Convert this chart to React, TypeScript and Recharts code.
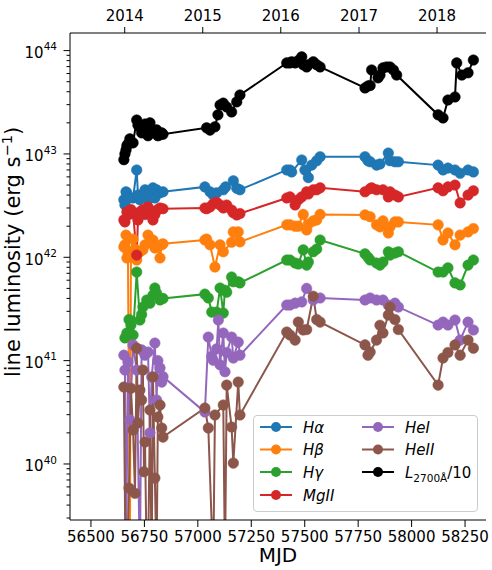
import React from 'react';
import { LineChart, Line, XAxis, YAxis } from 'recharts';

const FONT = '"DejaVu Sans", "Liberation Sans", sans-serif';
const PLOT_LEFT = 70;

// value used for points that lie below the bottom of the plotted range
const OFF = 1e39;

const MJD_DOMAIN: [number, number] = [56402, 58348];
const L_DOMAIN: [number, number] = [2.87e39, 1.48e44];
const MJD_TICKS = [56500, 56750, 57000, 57250, 57500, 57750, 58000, 58250];
const YEAR_TICKS = [56658, 57023, 57388, 57754, 58119];
const YEAR_LABELS = ['2014', '2015', '2016', '2017', '2018'];
const L_TICKS: number[] = [];
for (let k = 39; k <= 44; k++) {
  for (let m = 1; m <= 9; m++) {
    const v = m * Math.pow(10, k);
    if (v >= L_DOMAIN[0] && v <= L_DOMAIN[1]) L_TICKS.push(v);
  }
}

const HALPHA: [number, number][] = [
  [56654, 3.6e42], [56659, 3.21e42], [56664, 4.3e42], [56668, 4.2e42], [56678, 3.75e42], [56697, 3.75e42],
  [56714, 7.0e42], [56720, 4.0e42], [56729, 3.6e42], [56737, 4.0e42], [56753, 4.5e42], [56767, 3.6e42],
  [56776, 4.3e42], [56790, 4.7e42], [56799, 3.75e42], [56807, 4.5e42], [56823, 4.2e42], [56837, 4.3e42],
  [57033, 4.8e42], [57057, 4.3e42], [57072, 4.0e42], [57088, 4.2e42], [57119, 4.5e42], [57130, 4.8e42],
  [57166, 5.5e42], [57182, 4.65e42], [57197, 4.5e42],
  [57416, 7.0e42], [57431, 7.0e42], [57439, 6.7e42], [57486, 8.75e42], [57501, 7.0e42], [57517, 5.9e42],
  [57533, 7.8e42], [57556, 8.6e42], [57572, 9.4e42],
  [57782, 9.4e42], [57796, 8.6e42], [57806, 8.4e42], [57836, 7.8e42], [57852, 8.0e42], [57891, 1.02e43],
  [57899, 8.6e42], [57922, 8.4e42], [57938, 8.4e42],
  [58124, 7.8e42], [58147, 7.0e42], [58170, 7.3e42], [58203, 7.0e42], [58227, 6.5e42], [58264, 7.0e42], [58289, 6.7e42],
];

const HBETA: [number, number][] = [
  [56654, 1.26e42], [56659, 1.32e42], [56664, 1.64e42], [56668, 9.85e41], [56673, 1.13e42], [56682, OFF],
  [56687, 1.05e42], [56697, 1.5e42], [56706, 1.2e42], [56714, 9.4e41], [56729, 1.13e42], [56743, 1.18e42],
  [56753, 1.32e42], [56767, 1.64e42], [56776, 1.41e42], [56790, 1.47e42], [56799, 1.23e42], [56813, 1.26e42],
  [56823, 9.85e41], [56831, 1.32e42], [56837, 1.35e42],
  [57033, 1.47e42], [57041, 1.5e42], [57057, 1.32e42], [57080, 8.05e41], [57104, 1.32e42], [57119, 1.13e42],
  [57158, 1.4e42], [57166, 1.76e42], [57182, 1.72e42], [57189, 1.76e42], [57197, 1.41e42],
  [57416, 2.06e42], [57431, 2.06e42], [57455, 2.0e42], [57470, 2.0e42], [57493, 2.6e42], [57509, 1.84e42],
  [57517, 2.1e42], [57540, 2.25e42], [57556, 2.3e42], [57572, 2.6e42],
  [57782, 2.57e42], [57806, 2.47e42], [57836, 2.06e42], [57852, 1.97e42], [57866, 2.25e42], [57891, 1.72e42],
  [57899, 1.97e42], [57922, 2.2e42], [57938, 2.2e42],
  [58124, 2.06e42], [58147, 1.47e42], [58170, 1.72e42], [58203, 1.32e42], [58227, 1.64e42], [58264, 1.76e42], [58289, 1.9e42],
];

const HGAMMA: [number, number][] = [
  [56659, 1.66e41], [56668, 1.85e41], [56678, 2.5e41], [56687, 2.21e41], [56697, 1.77e41], [56714, 7.2e41],
  [56729, 2.47e41], [56737, 2.8e41], [56743, 3.3e41], [56761, 3.86e41], [56776, 3.6e41], [56790, 4.3e41],
  [56799, 5.05e41], [56807, 4.5e41], [56823, 3.86e41], [56837, 4.0e41],
  [57033, 4.4e41], [57049, 4.04e41], [57065, 2.95e41], [57088, 2.95e41], [57104, 5.05e41], [57119, 2.89e41],
  [57127, 4.8e41], [57135, 4.6e41], [57158, 6.45e41], [57166, 5.8e41], [57189, 5.8e41], [57197, 5.65e41],
  [57416, 9.4e41], [57431, 9.4e41], [57455, 8.8e41], [57470, 8.6e41], [57493, 1.18e42], [57509, 8.4e41],
  [57517, 9.0e41], [57540, 1.13e42], [57556, 1.2e42], [57572, 1.47e42],
  [57782, 1.08e42], [57796, 1.0e42], [57806, 9.4e41], [57836, 8.8e41], [57852, 8.4e41], [57866, 9.0e41],
  [57891, 1.13e42], [57899, 1.05e42], [57922, 1.1e42], [57938, 1.13e42],
  [58124, 7.2e41], [58147, 7.2e41], [58170, 7.9e41], [58203, 5.65e41], [58227, 5.4e41], [58264, 8.4e41], [58289, 9.4e41],
];

const MGII: [number, number][] = [
  [56654, 2.3e42], [56659, 2.2e42], [56668, 2.75e42], [56678, 2.6e42], [56687, 2.9e42], [56697, 2.69e42],
  [56714, 1.05e42], [56720, 2.3e42], [56729, 2.75e42], [56743, 2.9e42], [56753, 2.6e42], [56767, 3.07e42],
  [56776, 2.87e42], [56790, 2.3e42], [56799, 2.6e42], [56813, 2.9e42], [56823, 3.0e42], [56837, 2.95e42],
  [57033, 3.0e42], [57041, 2.95e42], [57057, 3.07e42], [57072, 3.3e42], [57088, 3.4e42], [57104, 3.21e42],
  [57119, 3.0e42], [57135, 3.2e42], [57158, 2.87e42], [57166, 2.7e42], [57182, 2.57e42], [57197, 2.65e42],
  [57416, 3.75e42], [57431, 3.84e42], [57455, 3.21e42], [57470, 3.6e42], [57486, 3.84e42], [57509, 4.3e42],
  [57517, 4.1e42], [57540, 4.5e42], [57556, 4.5e42], [57572, 4.7e42],
  [57782, 4.3e42], [57806, 4.6e42], [57813, 4.7e42], [57836, 4.5e42], [57866, 4.5e42], [57891, 3.84e42],
  [57899, 4.3e42], [57922, 4.0e42], [57938, 3.84e42],
  [58124, 4.7e42], [58147, 4.4e42], [58170, 4.8e42], [58203, 5.0e42], [58227, 3.36e42], [58264, 4.0e42], [58289, 4.4e42],
];

const HEI: [number, number][] = [
  [56654, 1.13e41], [56659, 8.1e40], [56664, OFF], [56673, 9.7e40], [56682, 2.67e40], [56697, 1.42e41],
  [56714, 8.1e40], [56729, OFF], [56737, 1.27e41], [56753, 1.13e41], [56767, 1.21e41], [56776, 2.0e40],
  [56784, 6.95e40], [56799, 1.48e41], [56807, 4.16e40], [56813, 1.0e41], [56823, 8.5e40], [56831, 6.2e40], [56837, 7.0e40],
  [57033, 3.18e40], [57049, 1.69e41], [57065, 1.1e41], [57072, 1.01e41], [57088, 1.3e41], [57096, 2.47e41],
  [57104, 9.1e40], [57119, 1.85e41], [57127, 7.8e40], [57135, 1.2e41], [57158, 1.69e41], [57166, 1.06e41],
  [57189, 1.51e41], [57197, 1.13e41],
  [57416, 3.45e41], [57431, 3.45e41], [57455, 3.6e41], [57486, 3.7e41], [57509, 5.0e41], [57540, 3.86e41], [57572, 4.04e41],
  [57782, 3.86e41], [57806, 4.04e41], [57836, 3.86e41], [57866, 3.86e41], [57891, 3.45e41], [57922, 3.6e41], [57938, 3.3e41],
  [58124, 2.21e41], [58147, 2.36e41], [58170, 2.21e41], [58203, 2.47e41], [58227, 1.58e41], [58264, 2.36e41], [58289, 1.98e41],
];

const HEII: [number, number][] = [
  [56654, 5.55e40], [56662, OFF], [56668, OFF], [56678, 5.85e39], [56687, 5.4e40], [56697, 2.13e40],
  [56706, 5.2e39], [56714, 1.32e41], [56720, 2.49e40], [56729, 5.2e40], [56737, 4.16e40], [56743, 8.1e40],
  [56748, 8.4e39], [56753, 1.63e40], [56761, OFF], [56767, OFF], [56776, 3.33e40], [56784, OFF],
  [56790, 6.95e40], [56799, 7.3e39], [56807, OFF], [56813, 2.85e40], [56823, 3.72e40], [56831, 2.23e40], [56837, 1.82e40],
  [57033, 3.48e40], [57049, 2.23e40], [57072, OFF], [57080, 2.98e40], [57119, 3.72e40], [57127, OFF],
  [57135, 5.8e40], [57158, 2.28e40], [57166, 1.02e40], [57189, 6.2e40], [57197, 2.98e40],
  [57416, 1.89e41], [57431, 1.77e41], [57455, 1.58e41], [57470, 2.36e41], [57493, 1.98e41], [57509, 2.0e41],
  [57540, 4.2e41], [57556, 2.5e41], [57572, 2.36e41],
  [57782, 1.42e41], [57796, 1.13e41], [57806, 1.21e41], [57836, 1.58e41], [57852, 2.2e41], [57866, 1.85e41],
  [57891, 2.76e41], [57899, 3.3e41], [57922, 2.5e41], [57938, 2.0e41],
  [58124, 5.8e40], [58147, 1.06e41], [58170, 1.2e41], [58203, 1.42e41], [58227, 1.13e41], [58264, 1.58e41], [58289, 1.32e41],
];

const L2700: [number, number][] = [
  [56654, 8.8e42], [56659, 1.0e43], [56664, 1.09e43], [56668, 1.2e43], [56673, 1.25e43], [56682, 1.4e43],
  [56697, 1.28e43], [56714, 2.13e43], [56720, 1.9e43], [56729, 1.83e43], [56737, 1.6e43], [56743, 1.83e43],
  [56753, 1.95e43], [56761, 1.7e43], [56767, 1.5e43], [56776, 2.0e43], [56784, 1.75e43], [56799, 1.6e43],
  [56807, 1.71e43], [56813, 1.5e43], [56823, 1.53e43], [56831, 1.6e43], [56837, 1.55e43],
  [57041, 1.79e43], [57057, 1.7e43], [57080, 1.83e43], [57094, 2.39e43], [57104, 2.98e43], [57119, 3.1e43],
  [57135, 2.85e43], [57158, 2.55e43], [57182, 3.19e43], [57197, 3.72e43],
  [57416, 7.6e43], [57431, 7.6e43], [57439, 7.8e43], [57455, 7.6e43], [57470, 8.0e43], [57486, 8.7e43],
  [57493, 7.3e43], [57509, 6.95e43], [57517, 7.3e43], [57540, 7.8e43], [57556, 7.3e43], [57572, 6.95e43],
  [57782, 4.35e43], [57796, 4.55e43], [57806, 4.6e43], [57813, 6.5e43], [57843, 5.45e43], [57852, 5.8e43],
  [57866, 6.8e43], [57883, 6.95e43], [57899, 6.95e43], [57915, 6.5e43], [57930, 5.8e43],
  [58124, 2.39e43], [58147, 2.23e43], [58170, 3.33e43], [58203, 3.56e43], [58211, 7.6e43], [58235, 5.8e43],
  [58264, 6.1e43], [58289, 8.1e43],
];

const toRows = (pts: [number, number][]) => pts.map(([mjd, v]) => ({ mjd, v }));

const SERIES = [
  { key: 'ha', color: '#1f77b4', pts: HALPHA },
  { key: 'hb', color: '#ff7f0e', pts: HBETA },
  { key: 'hg', color: '#2ca02c', pts: HGAMMA },
  { key: 'mg', color: '#d62728', pts: MGII },
  { key: 'he1', color: '#9467bd', pts: HEI },
  { key: 'he2', color: '#8c564b', pts: HEII },
  { key: 'l27', color: '#000000', pts: L2700 },
];

const LEGEND_ITEMS = [
  { key: 'ha', col: 0, row: 0, label: <tspan fontStyle="italic">Hα</tspan> },
  { key: 'hb', col: 0, row: 1, label: <tspan fontStyle="italic">Hβ</tspan> },
  { key: 'hg', col: 0, row: 2, label: <tspan fontStyle="italic">Hγ</tspan> },
  { key: 'mg', col: 0, row: 3, label: <tspan fontStyle="italic">MgII</tspan> },
  { key: 'he1', col: 1, row: 0, label: <tspan fontStyle="italic">HeI</tspan> },
  { key: 'he2', col: 1, row: 1, label: <tspan fontStyle="italic">HeII</tspan> },
  {
    key: 'l27', col: 1, row: 2, label: (
      <>
        <tspan fontStyle="italic">L</tspan>
        <tspan fontSize={10.5} dy={4}>2700Å</tspan>
        <tspan dy={-4}>/10</tspan>
      </>
    ),
  },
];

const YTick = (props: any) => {
  const { y, payload } = props;
  const v = payload.value as number;
  const lg = Math.log10(v);
  const e = Math.round(lg);
  const major = Math.abs(lg - e) < 1e-6;
  return (
    <g>
      <line x1={PLOT_LEFT - (major ? 6.5 : 3.5)} x2={PLOT_LEFT} y1={y} y2={y} stroke="#000" strokeWidth={1} />
      {major && (
        <text x={57} y={y + 7.3} textAnchor="end" fontSize={15} fontFamily={FONT} fill="#000">
          10<tspan dy={-7.6} fontSize={10.5}>{e}</tspan>
        </text>
      )}
    </g>
  );
};

const YLabel = () => (
  <text
    x={20}
    y={252}
    transform="rotate(-90 20 252)"
    textAnchor="middle"
    fontSize={21}
    fontFamily={FONT}
    fill="#000"
  >
    line luminosity (erg s<tspan dy={-8} fontSize={14.5}>−1</tspan><tspan dy={8}>)</tspan>
  </text>
);

const XLabel = () => (
  <text x={278} y={562} textAnchor="middle" fontSize={20} fontFamily={FONT} fill="#000">
    MJD
  </text>
);

const Legend = () => {
  const colX = [7, 109];
  const rowY = [12, 34.5, 57, 80];
  return (
    <div
      style={{
        position: 'absolute',
        left: 253,
        top: 415,
        width: 225,
        height: 97,
        border: '1px solid #cccccc',
        borderRadius: 4,
        background: 'rgba(255,255,255,0.8)',
        boxSizing: 'border-box',
      }}
    >
      <svg width={225} height={97} style={{ position: 'absolute', left: -1, top: -1 }}>
        {LEGEND_ITEMS.map((it) => {
          const s = SERIES.find((q) => q.key === it.key)!;
          const x0 = colX[it.col];
          const y0 = rowY[it.row];
          return (
            <g key={it.key}>
              <line x1={x0} x2={x0 + 32} y1={y0} y2={y0} stroke={s.color} strokeWidth={2} />
              <circle cx={x0 + 16} cy={y0} r={5} fill={s.color} />
              <text x={x0 + 43} y={y0 + 5.5} fontSize={15} fontFamily={FONT} fill="#000">
                {it.label}
              </text>
            </g>
          );
        })}
      </svg>
    </div>
  );
};

export default function App() {
  return (
    <div style={{ position: 'absolute', left: 0, top: 0, width: 492, height: 570, background: '#fff' }}>
      <LineChart width={492} height={570} margin={{ top: 0, right: 6, bottom: 0, left: 0 }}>
        <XAxis
          xAxisId={0}
          dataKey="mjd"
          type="number"
          domain={MJD_DOMAIN}
          allowDataOverflow
          ticks={MJD_TICKS}
          height={50}
          tickSize={7}
          tickMargin={4}
          tickLine={{ stroke: '#000' }}
          axisLine={{ stroke: '#000' }}
          tick={{ fill: '#000', fontSize: 15, fontFamily: FONT }}
          interval={0}
          label={<XLabel />}
        />
        <XAxis
          xAxisId="top"
          orientation="top"
          dataKey="mjd"
          type="number"
          domain={MJD_DOMAIN}
          allowDataOverflow
          ticks={YEAR_TICKS}
          tickFormatter={(v: number) => YEAR_LABELS[YEAR_TICKS.indexOf(v)] ?? ''}
          height={33}
          tickSize={6}
          tickMargin={6}
          tickLine={{ stroke: '#000' }}
          axisLine={{ stroke: '#000' }}
          tick={{ fill: '#000', fontSize: 15, fontFamily: FONT }}
          interval={0}
        />
        <YAxis
          yAxisId={0}
          type="number"
          scale="log"
          domain={L_DOMAIN}
          allowDataOverflow
          ticks={L_TICKS}
          interval={0}
          width={70}
          tickLine={false}
          axisLine={{ stroke: '#000' }}
          tick={<YTick />}
          label={<YLabel />}
        />
        <YAxis
          yAxisId="right"
          orientation="right"
          type="number"
          domain={[0, 1]}
          width={0}
          tick={false}
          tickLine={false}
          axisLine={{ stroke: '#000' }}
        />
        {SERIES.map((s) => (
          <Line
            key={s.key}
            data={toRows(s.pts)}
            dataKey="v"
            xAxisId={0}
            yAxisId={0}
            type="linear"
            stroke={s.color}
            strokeWidth={2}
            dot={{ r: 5.3, fill: s.color, stroke: s.color, strokeWidth: 0.5 }}
            activeDot={false}
            isAnimationActive={false}
          />
        ))}
      </LineChart>
      <Legend />
    </div>
  );
}
